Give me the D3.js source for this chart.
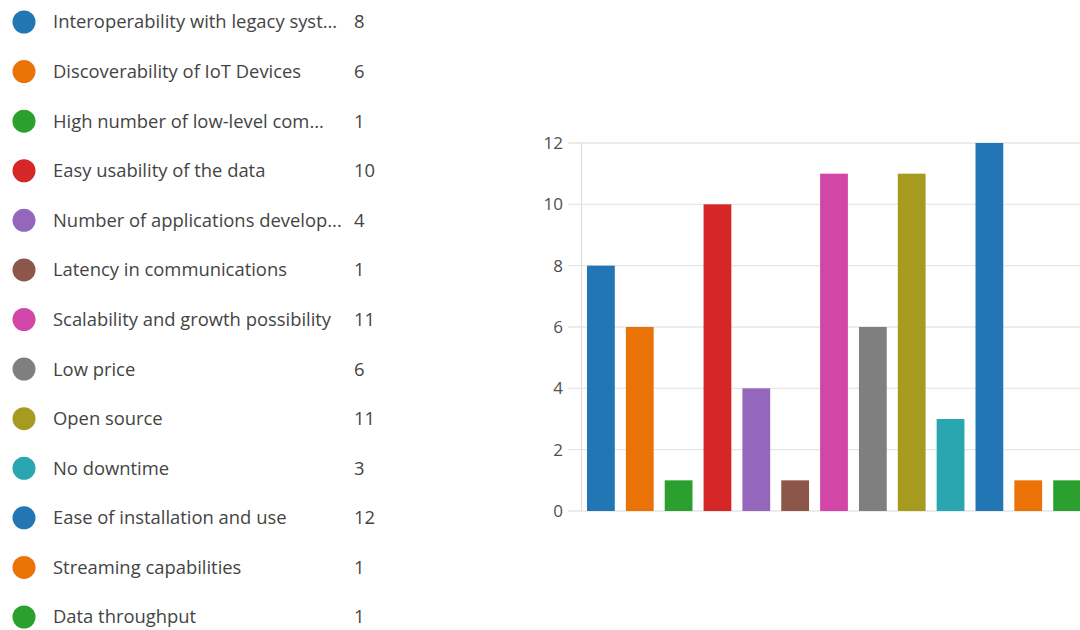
<!DOCTYPE html>
<html>
<head>
<meta charset="utf-8">
<script src="https://cdn.jsdelivr.net/npm/d3@7"></script>
<style>
  html, body { margin: 0; padding: 0; background: #fff; overflow: hidden; }
  svg { display: block; font-family: "Open Sans", "Noto Sans", sans-serif; }
</style>
</head>
<body>
<svg id="chart" width="1080" height="630"></svg>
<script>
// Survey answers: label shown in the legend, and number of responses
const categories = [
  "Interoperability with legacy syst...",
  "Discoverability of IoT Devices",
  "High number of low-level com...",
  "Easy usability of the data",
  "Number of applications develop...",
  "Latency in communications",
  "Scalability and growth possibility",
  "Low price",
  "Open source",
  "No downtime",
  "Ease of installation and use",
  "Streaming capabilities",
  "Data throughput"
];
const counts = [8, 6, 1, 10, 4, 1, 11, 6, 11, 3, 12, 1, 1];
const yTicks = [0, 2, 4, 6, 8, 10, 12];
const palette = [
  "#2176b3", "#ea7207", "#2ca02f", "#d62728", "#9467bd", "#8c564b",
  "#d146a6", "#7f7f7f", "#a69a1f", "#2aa6b0", "#2176b3", "#ea7207", "#2ca02f"
];

const svg = d3.select("#chart");

// ---- Legend ----
const legendY = d3.scalePoint()
  .domain(d3.range(categories.length))
  .range([22, 617]);

const legend = svg.append("g").attr("class", "legend");
const rows = legend.selectAll("g.row")
  .data(categories)
  .join("g")
  .attr("class", "row")
  .attr("transform", (d, i) => `translate(0,${legendY(i)})`);

rows.append("circle")
  .attr("cx", 24)
  .attr("cy", 0)
  .attr("r", 11.5)
  .attr("fill", (d, i) => palette[i]);

rows.append("text")
  .attr("x", 53)
  .attr("y", 0)
  .attr("dy", "0.35em")
  .attr("font-size", 18.4)
  .attr("fill", "#444")
  .text(d => d);

rows.append("text")
  .attr("x", 354)
  .attr("y", 0)
  .attr("dy", "0.35em")
  .attr("font-size", 18.4)
  .attr("fill", "#444")
  .text((d, i) => counts[i]);

// ---- Bar chart ----
const x = d3.scaleBand()
  .domain(d3.range(categories.length))
  .range([581, 1087])
  .paddingInner(0.285)
  .paddingOuter(0.155);

const y = d3.scaleLinear()
  .domain([0, 12])
  .range([511, 143]);

// horizontal gridlines
svg.append("g")
  .selectAll("line")
  .data(yTicks)
  .join("line")
  .attr("x1", 568)
  .attr("x2", 1080)
  .attr("y1", d => y(d))
  .attr("y2", d => y(d))
  .attr("stroke", "#e6e6e6")
  .attr("stroke-width", 1.3);

// y axis
const yAxis = d3.axisLeft(y)
  .tickValues(yTicks)
  .tickSize(0)
  .tickPadding(18);

const yg = svg.append("g")
  .attr("transform", "translate(581,0)")
  .call(yAxis);
yg.select(".domain").attr("stroke", "#e0e0e0").attr("stroke-width", 1.3);
yg.selectAll("text")
  .attr("font-size", 17)
  .attr("fill", "#505050")
  .attr("font-family", "'Open Sans', 'Noto Sans', sans-serif");

// bars
svg.append("g")
  .selectAll("rect")
  .data(counts)
  .join("rect")
  .attr("x", (d, i) => x(i))
  .attr("y", d => y(d))
  .attr("width", x.bandwidth())
  .attr("height", d => y(0) - y(d))
  .attr("fill", (d, i) => palette[i]);
</script>
</body>
</html>
